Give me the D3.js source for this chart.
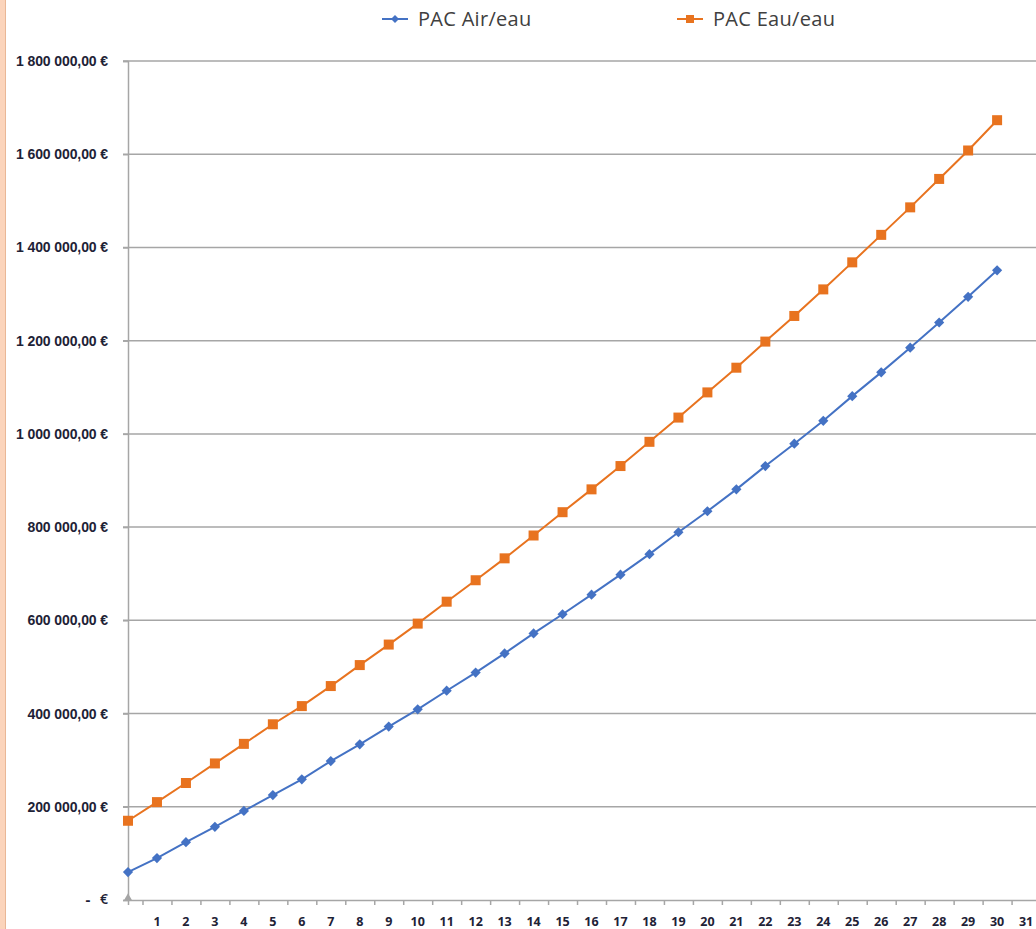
<!DOCTYPE html>
<html>
<head>
<meta charset="utf-8">
<script src="https://cdn.jsdelivr.net/npm/d3@7"></script>
<style>
  body { margin: 0; background: #fff; }
  svg { display: block; font-family: "Open Sans", "Liberation Sans", sans-serif; }
</style>
</head>
<body>
<svg id="chart"></svg>
<script>
let width = 1036, height = 929

// years 0..30
let years = d3.range(0, 31)
let airEau = [60000, 90000, 124000, 157000, 191000, 225000, 259000, 298000, 334000, 372000,
  409000, 449000, 488000, 529000, 572000, 613000, 655000, 698000, 742000, 789000,
  834000, 881000, 931000, 979000, 1028000, 1081000, 1132000, 1185000, 1239000, 1294000, 1351000]
let eauEau = [170000, 210000, 251000, 293000, 335000, 377000, 416000, 459000, 504000, 548000,
  593000, 640000, 686000, 733000, 782000, 832000, 881000, 931000, 983000, 1035000,
  1089000, 1142000, 1198000, 1253000, 1310000, 1368000, 1427000, 1486000, 1547000, 1608000, 1673000]
let yTicks = [0, 200000, 400000, 600000, 800000, 1000000, 1200000, 1400000, 1600000, 1800000]
let xLabels = d3.range(1, 32)
let seriesNames = ['PAC Air/eau', 'PAC Eau/eau']

let blue = '#4472c4', orange = '#e8731f', grid = '#a6a6a6', txt = '#1e2236'

let svg = d3.select('#chart').attr('width', width).attr('height', height)

// left page border strip
svg.append('rect').attr('x', 0).attr('y', 0).attr('width', 5).attr('height', height).attr('fill', '#fbd4bb')
svg.append('line').attr('x1', 5.5).attr('x2', 5.5).attr('y1', 0).attr('y2', height)
  .attr('stroke', '#e9b796').attr('stroke-width', 1)

let x = d3.scaleLinear().domain([0, 31.5]).range([128, 128 + 31.5 * 28.97])
let y = d3.scaleLinear().domain([0, 1800000]).range([900, 61])

let fmt = v => {
  if (v === 0) return ''
  let s = d3.format(',.2f')(v)
  return s.replace(/,/g, ' ').replace('.', ',') + ' €'
}

// gridlines
svg.append('g').selectAll('line').data(yTicks.filter(d => d > 0)).enter().append('line')
  .attr('x1', 123).attr('x2', width)
  .attr('y1', d => y(d)).attr('y2', d => y(d))
  .attr('stroke', grid).attr('stroke-width', 1.5)

// y axis
let yAxis = svg.append('g').attr('transform', 'translate(128,0)')
  .call(d3.axisLeft(y).tickValues(yTicks).tickSize(5).tickFormat(fmt))
yAxis.select('.domain').attr('stroke', grid).attr('stroke-width', 1.5)
yAxis.selectAll('.tick line').attr('stroke', grid).attr('stroke-width', 1.5)
yAxis.selectAll('.tick text').attr('x', -20).attr('fill', txt)
  .style('font-size', '14px').style('font-weight', 600).style('letter-spacing', '-0.1px')

// zero label " -   € "
svg.append('text').attr('x', 88).attr('y', y(0)).attr('dy', '0.32em').attr('text-anchor', 'middle')
  .attr('fill', txt).style('font-size', '15px').style('font-weight', 700).text('-')
svg.append('text').attr('x', 108).attr('y', y(0)).attr('dy', '0.32em').attr('text-anchor', 'end')
  .attr('fill', txt).style('font-size', '14px').style('font-weight', 600).text('€')

// x axis
let xAxis = svg.append('g').attr('transform', 'translate(0,900)')
  .call(d3.axisBottom(x).tickValues(xLabels.map(d => d - 0.5)).tickSize(5).tickFormat(''))
xAxis.select('.domain').attr('stroke', grid).attr('stroke-width', 1.5)
xAxis.selectAll('.tick line').attr('stroke', grid).attr('stroke-width', 1.5)
svg.append('g').selectAll('text').data(xLabels).enter().append('text')
  .attr('x', d => x(d)).attr('y', 926).attr('text-anchor', 'middle')
  .attr('fill', txt).style('font-size', '12.5px').style('font-weight', 700)
  .text(d => d)

// lines
let line = d3.line().x((d, i) => x(years[i])).y(d => y(d))
svg.append('path').datum(airEau).attr('d', line).attr('fill', 'none').attr('stroke', blue).attr('stroke-width', 2)
svg.append('path').datum(eauEau).attr('d', line).attr('fill', 'none').attr('stroke', orange).attr('stroke-width', 2)

// diamonds = squares turned 45 degrees
let diamond = d3.symbol().type(d3.symbolSquare).size(52)
svg.append('g').selectAll('path').data(airEau).enter().append('path')
  .attr('d', diamond)
  .attr('transform', (d, i) => `translate(${x(years[i])},${y(d)}) rotate(45)`)
  .attr('fill', blue)
svg.append('g').selectAll('rect').data(eauEau).enter().append('rect')
  .attr('x', (d, i) => x(years[i]) - 5).attr('y', d => y(d) - 5)
  .attr('width', 10).attr('height', 10).attr('fill', orange)

// small gray triangle at origin
svg.append('path').attr('d', d3.symbol().type(d3.symbolTriangle).size(30))
  .attr('transform', `translate(${x(0)},${y(0) - 2})`).attr('fill', '#a5a5a5')

// legend
let legend = svg.append('g')
let lg = legend.selectAll('g').data(seriesNames).enter().append('g')
  .attr('transform', (d, i) => `translate(${i === 0 ? 382 : 677},19)`)
lg.append('line').attr('x1', 0).attr('x2', 26).attr('y1', 0).attr('y2', 0)
  .attr('stroke', (d, i) => i === 0 ? blue : orange).attr('stroke-width', 2)
lg.each(function (d, i) {
  let s = d3.select(this)
  if (i === 0) s.append('path').attr('d', d3.symbol().type(d3.symbolSquare).size(32)).attr('transform', 'translate(13,0) rotate(45)').attr('fill', blue)
  else s.append('rect').attr('x', 9).attr('y', -4).attr('width', 8).attr('height', 8).attr('fill', orange)
})
lg.append('text').attr('x', 36).attr('y', 0).attr('dy', '0.35em')
  .attr('fill', '#404040').style('font-size', '20px').style('letter-spacing', '0.3px')
  .text(d => d)
</script>
</body>
</html>
